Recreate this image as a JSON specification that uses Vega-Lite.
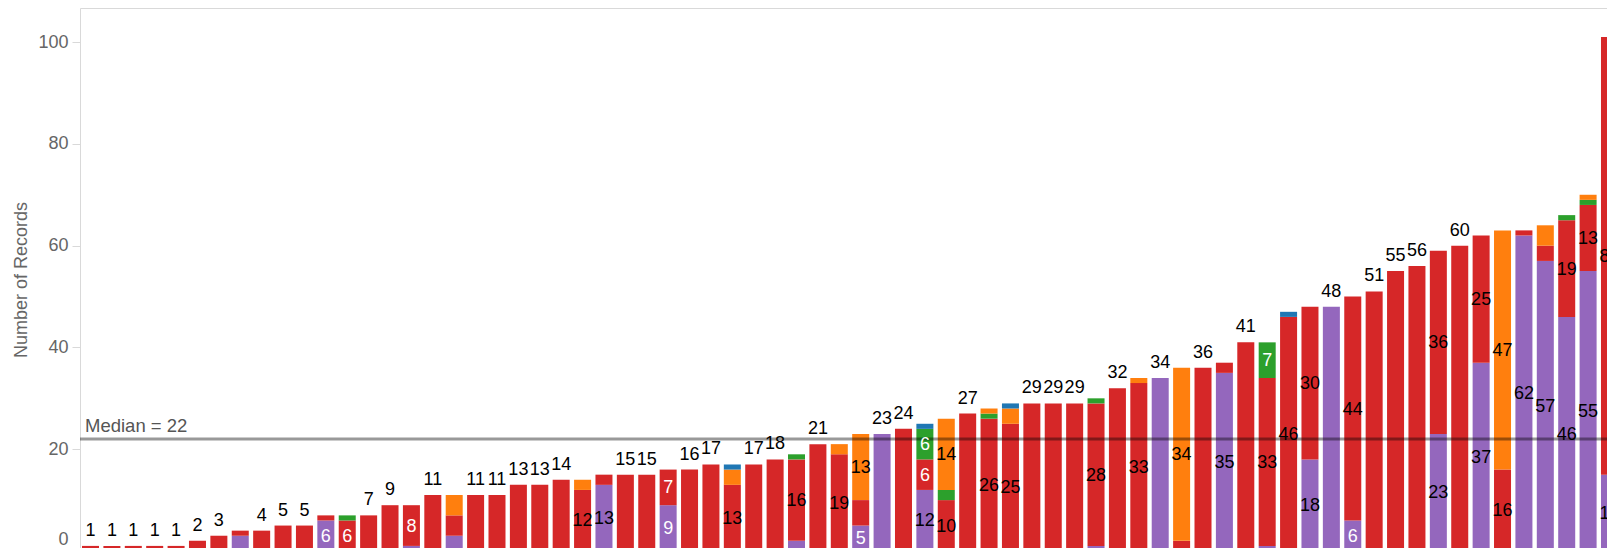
{
  "$schema": "https://vega.github.io/schema/vega-lite/v6.json",
  "width": 1527,
  "height": 540,
  "autosize": {"type": "none"},
  "padding": {"left": 80, "top": 8, "right": 0, "bottom": 0},
  "background": "white",
  "config": {"view": {"stroke": null}, "font": "Liberation Sans"},
  "data": {"values": [
    {"item":"01","cat":"D","value":1},
    {"item":"02","cat":"D","value":1},
    {"item":"03","cat":"D","value":1},
    {"item":"04","cat":"D","value":1},
    {"item":"05","cat":"D","value":1},
    {"item":"06","cat":"D","value":2},
    {"item":"07","cat":"D","value":3},
    {"item":"08","cat":"E","value":3},{"item":"08","cat":"D","value":1},
    {"item":"09","cat":"D","value":4},
    {"item":"10","cat":"D","value":5},
    {"item":"11","cat":"D","value":5},
    {"item":"12","cat":"E","value":6},{"item":"12","cat":"D","value":1},
    {"item":"13","cat":"D","value":6},{"item":"13","cat":"C","value":1},
    {"item":"14","cat":"D","value":7},
    {"item":"15","cat":"D","value":9},
    {"item":"16","cat":"E","value":1},{"item":"16","cat":"D","value":8},
    {"item":"17","cat":"D","value":11},
    {"item":"18","cat":"E","value":3},{"item":"18","cat":"D","value":4},{"item":"18","cat":"B","value":4},
    {"item":"19","cat":"D","value":11},
    {"item":"20","cat":"D","value":11},
    {"item":"21","cat":"D","value":13},
    {"item":"22","cat":"D","value":13},
    {"item":"23","cat":"D","value":14},
    {"item":"24","cat":"D","value":12},{"item":"24","cat":"B","value":2},
    {"item":"25","cat":"E","value":13},{"item":"25","cat":"D","value":2},
    {"item":"26","cat":"D","value":15},
    {"item":"27","cat":"D","value":15},
    {"item":"28","cat":"E","value":9},{"item":"28","cat":"D","value":7},
    {"item":"29","cat":"D","value":16},
    {"item":"30","cat":"D","value":17},
    {"item":"31","cat":"D","value":13},{"item":"31","cat":"B","value":3},{"item":"31","cat":"A","value":1},
    {"item":"32","cat":"D","value":17},
    {"item":"33","cat":"D","value":18},
    {"item":"34","cat":"E","value":2},{"item":"34","cat":"D","value":16},{"item":"34","cat":"C","value":1},
    {"item":"35","cat":"D","value":21},
    {"item":"36","cat":"D","value":19},{"item":"36","cat":"B","value":2},
    {"item":"37","cat":"E","value":5},{"item":"37","cat":"D","value":5},{"item":"37","cat":"B","value":13},
    {"item":"38","cat":"E","value":23},
    {"item":"39","cat":"D","value":24},
    {"item":"40","cat":"E","value":12},{"item":"40","cat":"D","value":6},{"item":"40","cat":"C","value":6},{"item":"40","cat":"A","value":1},
    {"item":"41","cat":"D","value":10},{"item":"41","cat":"C","value":2},{"item":"41","cat":"B","value":14},
    {"item":"42","cat":"D","value":27},
    {"item":"43","cat":"D","value":26},{"item":"43","cat":"C","value":1},{"item":"43","cat":"B","value":1},
    {"item":"44","cat":"D","value":25},{"item":"44","cat":"B","value":3},{"item":"44","cat":"A","value":1},
    {"item":"45","cat":"D","value":29},
    {"item":"46","cat":"D","value":29},
    {"item":"47","cat":"D","value":29},
    {"item":"48","cat":"E","value":1},{"item":"48","cat":"D","value":28},{"item":"48","cat":"C","value":1},
    {"item":"49","cat":"D","value":32},
    {"item":"50","cat":"D","value":33},{"item":"50","cat":"B","value":1},
    {"item":"51","cat":"E","value":34},
    {"item":"52","cat":"D","value":2},{"item":"52","cat":"B","value":34},
    {"item":"53","cat":"D","value":36},
    {"item":"54","cat":"E","value":35},{"item":"54","cat":"D","value":2},
    {"item":"55","cat":"D","value":41},
    {"item":"56","cat":"E","value":1},{"item":"56","cat":"D","value":33},{"item":"56","cat":"C","value":7},
    {"item":"57","cat":"D","value":46},{"item":"57","cat":"A","value":1},
    {"item":"58","cat":"E","value":18},{"item":"58","cat":"D","value":30},
    {"item":"59","cat":"E","value":48},
    {"item":"60","cat":"E","value":6},{"item":"60","cat":"D","value":44},
    {"item":"61","cat":"D","value":51},
    {"item":"62","cat":"D","value":55},
    {"item":"63","cat":"D","value":56},
    {"item":"64","cat":"E","value":23},{"item":"64","cat":"D","value":36},
    {"item":"65","cat":"D","value":60},
    {"item":"66","cat":"E","value":37},{"item":"66","cat":"D","value":25},
    {"item":"67","cat":"D","value":16},{"item":"67","cat":"B","value":47},
    {"item":"68","cat":"E","value":62},{"item":"68","cat":"D","value":1},
    {"item":"69","cat":"E","value":57},{"item":"69","cat":"D","value":3},{"item":"69","cat":"B","value":4},
    {"item":"70","cat":"E","value":46},{"item":"70","cat":"D","value":19},{"item":"70","cat":"C","value":1},
    {"item":"71","cat":"E","value":55},{"item":"71","cat":"D","value":13},{"item":"71","cat":"C","value":1},{"item":"71","cat":"B","value":1},
    {"item":"72","cat":"E","value":15},{"item":"72","cat":"D","value":86}
  ]},
  "layer": [
    {
      "mark": {"type": "bar", "clip": true},
      "encoding": {
        "x": {"field": "item", "type": "nominal", "sort": "ascending",
              "scale": {"range": [0, 1540], "paddingInner": 0.205, "paddingOuter": 0.0935},
              "axis": {"orient": "top", "labels": false, "ticks": false, "title": null, "domain": true, "domainColor": "#d9d9d9", "domainWidth": 1}},
        "y": {"field": "value", "type": "quantitative", "stack": "zero",
              "scale": {"domain": [0, 106.7], "range": [543, 0], "nice": false, "zero": false},
              "axis": {"values": [0, 20, 40, 60, 80, 100], "title": "Number of Records", "titleFontSize": 18, "titleFontWeight": "normal", "titleColor": "#666666", "titlePadding": 7,
                       "labelFontSize": 18, "labelColor": "#666666", "labelPadding": 4, "labelBound": false,
                       "labelOffset": {"condition": {"test": "datum.value === 0", "value": -12}, "value": 0},
                       "tickSize": 8, "tickColor": "#d9d9d9", "domainColor": "#d9d9d9", "grid": false}},
        "color": {"field": "cat", "type": "nominal",
                  "scale": {"domain": ["A", "B", "C", "D", "E"], "range": ["#1f77b4", "#ff7f0e", "#2ca02c", "#d62728", "#9467bd"]},
                  "legend": null},
        "order": {"field": "cat", "sort": "descending"}
      }
    },
    {
      "data": {"values": [{"median": 22, "label": "Median = 22", "first": "01"}]},
      "mark": {"type": "rule", "color": "black", "opacity": 0.4, "strokeWidth": 3},
      "encoding": {"y": {"field": "median", "type": "quantitative"}}
    },
    {
      "data": {"values": [{"median": 22, "label": "Median = 22", "first": "01"}]},
      "mark": {"type": "text", "align": "left", "baseline": "alphabetic", "dx": 3, "dy": -7, "fontSize": 18.5, "color": "#555555"},
      "encoding": {
        "x": {"field": "first", "type": "nominal", "bandPosition": 0, "sort": "ascending"},
        "y": {"field": "median", "type": "quantitative"},
        "text": {"field": "label", "type": "nominal"}
      }
    },
    {
      "transform": [
        {"joinaggregate": [{"op": "count", "as": "n"}], "groupby": ["item"]},
        {"filter": "datum.n == 1"}
      ],
      "mark": {"type": "text", "baseline": "alphabetic", "dy": -10, "fontSize": 18, "color": "#000000"},
      "encoding": {
        "x": {"field": "item", "type": "nominal", "sort": "ascending"},
        "y": {"field": "value", "type": "quantitative", "stack": null},
        "text": {"field": "value", "type": "quantitative"}
      }
    },
    {
      "transform": [
        {"joinaggregate": [{"op": "count", "as": "n"}], "groupby": ["item"]},
        {"stack": "value", "groupby": ["item"], "sort": [{"field": "cat", "order": "descending"}], "as": ["v0", "v1"]},
        {"calculate": "(datum.v0 + datum.v1) / 2", "as": "mid"},
        {"filter": "datum.n > 1 && datum.value >= 5 && !(datum.item == '37' && datum.cat == 'D')"}
      ],
      "mark": {"type": "text", "baseline": "middle", "dy": 1, "fontSize": 18},
      "encoding": {
        "x": {"field": "item", "type": "nominal", "sort": "ascending"},
        "y": {"field": "mid", "type": "quantitative", "stack": null},
        "text": {"field": "value", "type": "quantitative"},
        "color": {"condition": {"test": "datum.value < 10", "value": "#ffffff"}, "value": "#000000"}
      }
    }
  ]
}
